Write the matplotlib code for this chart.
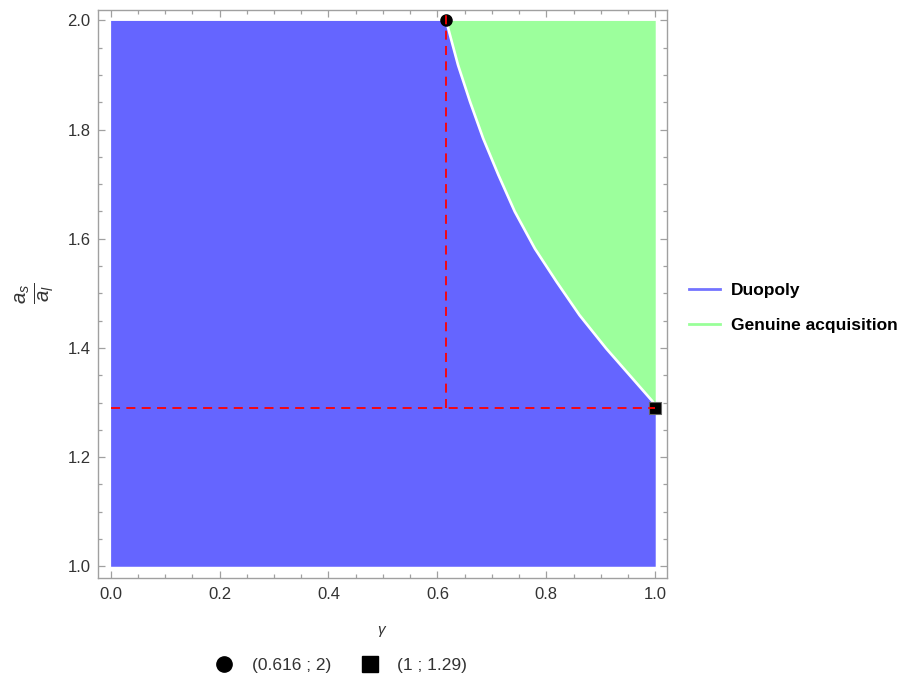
import numpy as np
import matplotlib.pyplot as plt
from matplotlib.lines import Line2D
from matplotlib.ticker import MultipleLocator

plt.rcParams['font.family'] = ['Liberation Sans', 'DejaVu Sans']
plt.rcParams['mathtext.fontset'] = 'custom'
plt.rcParams['mathtext.rm'] = 'Liberation Sans'
plt.rcParams['mathtext.it'] = 'Liberation Sans:italic'
plt.rcParams['mathtext.bf'] = 'Liberation Sans:bold'

# boundary between the two regions
gamma_b = [0.616, 0.638, 0.660, 0.684, 0.712, 0.742, 0.779, 0.819, 0.861, 0.910, 0.953, 0.996, 1.0]
ratio_b = [2.0, 1.918, 1.851, 1.784, 1.717, 1.650, 1.582, 1.521, 1.460, 1.399, 1.350, 1.301, 1.29]

# marked points
pt_circle = (0.616, 2.0)
pt_square = (1.0, 1.29)

regions = ['Duopoly', 'Genuine acquisition']
point_labels = ['(0.616 ; 2)', '(1 ; 1.29)']

blue = '#6565ff'
green = '#9cff9c'
grey = '#a0a0a0'
txt = '#333333'

fig = plt.figure(figsize=(9.09, 6.8), dpi=100)
ax = fig.add_axes([0.1073, 0.1496, 0.6261, 0.8364])

# regions
ax.fill_between([0.0] + gamma_b, 1, [2.0] + ratio_b, color=blue, lw=0, zorder=1)
ax.fill_between(gamma_b, ratio_b, 2, color=green, lw=0, zorder=1)
ax.plot(gamma_b, ratio_b, color='white', lw=1.9, zorder=2, solid_capstyle='butt')

# markers
ax.plot(*pt_circle, 'o', color='black', ms=8, zorder=3, clip_on=False)
ax.plot(*pt_square, 's', color='black', ms=8, mec='#666666', mew=0.8, zorder=3, clip_on=False)

# dashed guides
ylim = (0.978, 2.020)
ax.plot([pt_circle[0], pt_circle[0]], [pt_square[1], ylim[1]], color='red', ls=(0, (5, 3.5)), lw=1.3, zorder=4)
ax.plot([0, pt_square[0]], [pt_square[1], pt_square[1]], color='red', ls=(0, (5, 3.5)), lw=1.3, zorder=4)

ax.set_xlim(-0.024, 1.021)
ax.set_ylim(*ylim)

ax.xaxis.set_major_locator(MultipleLocator(0.2))
ax.xaxis.set_minor_locator(MultipleLocator(0.05))
ax.yaxis.set_major_locator(MultipleLocator(0.2))
ax.yaxis.set_minor_locator(MultipleLocator(0.05))
ax.xaxis.set_major_formatter(lambda v, p: f'{v:.1f}')
ax.yaxis.set_major_formatter(lambda v, p: f'{v:.1f}')

ax.tick_params(which='both', direction='in', top=True, right=True, color=grey,
               labelsize=12, labelcolor=txt)
ax.tick_params(which='major', length=5, width=0.9)
ax.tick_params(which='minor', length=3, width=0.9)
ax.tick_params(axis='x', pad=6)
ax.tick_params(axis='y', pad=5)
for s in ax.spines.values():
    s.set_color(grey)
    s.set_linewidth(1.0)

ax.set_xlabel(r'$\gamma$', fontsize=11, color=txt, labelpad=16)
ax.set_ylabel(r'$\frac{a_s}{a_l}$', fontsize=21, color=txt, labelpad=8)

# right-hand legend
h_reg = [Line2D([], [], color='#7373ff', lw=2),
         Line2D([], [], color='#99ff99', lw=2)]
fig.legend(h_reg, regions, loc='center left', bbox_to_anchor=(0.741, 0.547),
           frameon=False, handlelength=1.75, handletextpad=0.65, labelspacing=1.1,
           prop={'weight': 'bold', 'size': 12.5})

# bottom legend
h_pts = [Line2D([], [], marker='o', ls='none', color='black', ms=11),
         Line2D([], [], marker='s', ls='none', color='black', ms=11)]
leg = fig.legend(h_pts, point_labels, loc='center', bbox_to_anchor=(0.371, 0.022),
                 ncol=2, frameon=False, handletextpad=0.6, columnspacing=1.2,
                 prop={'size': 12.5})
for t in leg.get_texts():
    t.set_color(txt)

fig.savefig('out.png', dpi=100)
